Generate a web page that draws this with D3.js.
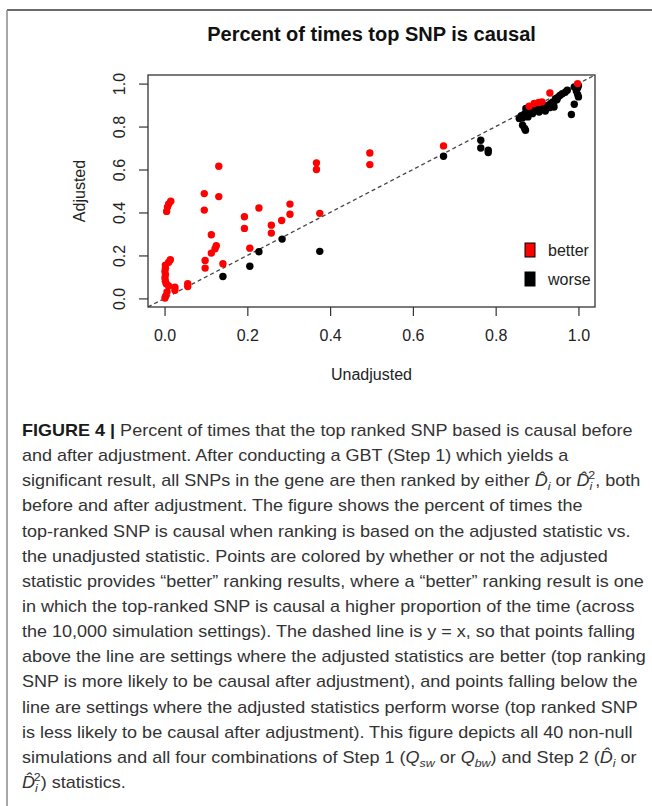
<!DOCTYPE html>
<html>
<head>
<meta charset="utf-8">
<script src="https://cdn.jsdelivr.net/npm/d3@7"></script>
<style>
  body { margin: 0; background: #fff; }
  svg, svg text { font-family: "Liberation Sans", Arial, sans-serif; }
</style>
</head>
<body>
<div id="chart"></div>
<script>
// points: [unadjusted, adjusted]
const betterPoints = [
  [0.015, 0.452], [0.010, 0.440], [0.007, 0.425], [0.005, 0.405],
  [0.014, 0.180], [0.010, 0.168], [0.002, 0.155], [0.002, 0.140], [0.001, 0.125],
  [0.002, 0.110], [0.001, 0.095], [0.002, 0.080], [0.004, 0.068], [0.010, 0.058],
  [0.006, 0.030], [0.003, 0.012], [0.001, 0.002],
  [0.025, 0.052], [0.025, 0.038], [0.056, 0.068], [0.056, 0.055],
  [0.096, 0.488], [0.096, 0.411], [0.131, 0.615], [0.131, 0.474], [0.113, 0.296],
  [0.125, 0.245], [0.122, 0.231], [0.113, 0.211], [0.098, 0.177], [0.098, 0.141],
  [0.141, 0.161], [0.193, 0.380], [0.193, 0.326], [0.228, 0.421], [0.206, 0.234],
  [0.258, 0.341], [0.258, 0.304], [0.283, 0.363], [0.303, 0.439], [0.303, 0.392],
  [0.375, 0.396], [0.367, 0.631], [0.367, 0.600], [0.496, 0.677], [0.496, 0.623],
  [0.674, 0.710],
  [0.881, 0.895], [0.893, 0.907], [0.904, 0.912], [0.912, 0.915], [0.931, 0.956], [0.998, 1.000]
]
const worsePoints = [
  [0.141, 0.102], [0.206, 0.150], [0.228, 0.217], [0.284, 0.276], [0.375, 0.219],
  [0.674, 0.662], [0.764, 0.736], [0.764, 0.700], [0.782, 0.690], [0.782, 0.679],
  [0.857, 0.837], [0.865, 0.806], [0.870, 0.791], [0.872, 0.783], [0.865, 0.840],
  [0.877, 0.853], [0.889, 0.860], [0.905, 0.868], [0.921, 0.884], [0.941, 0.891],
  [0.933, 0.907], [0.945, 0.930], [0.961, 0.953], [0.973, 0.969], [0.873, 0.884],
  [0.885, 0.891], [0.870, 0.860], [0.880, 0.870], [0.895, 0.875], [0.912, 0.880],
  [0.915, 0.895], [0.925, 0.898], [0.938, 0.915], [0.950, 0.935], [0.955, 0.945],
  [0.968, 0.960], [0.900, 0.885], [0.862, 0.850], [0.878, 0.845], [0.930, 0.888],
  [0.948, 0.925], [0.890, 0.875], [0.908, 0.890], [0.920, 0.872], [0.940, 0.905],
  [0.990, 0.984], [0.998, 0.980], [0.995, 0.965], [1.000, 0.990], [0.998, 0.950],
  [1.000, 0.938], [0.990, 0.904], [0.983, 0.856]
]
const xTicks = [0, 0.2, 0.4, 0.6, 0.8, 1.0]
const yTicks = [0, 0.2, 0.4, 0.6, 0.8, 1.0]
const legendLabels = ["better", "worse"]
const legendColors = ["#ff0000", "#000000"]

// caption, one entry per printed line
const captionLines = [
  [{b: "FIGURE 4 |"}, " Percent of times that the top ranked SNP based is causal before"],
  ["and after adjustment. After conducting a GBT (Step 1) which yields a"],
  ["significant result, all SNPs in the gene are then ranked by either ", {it: "D\u0302"}, {sub: "i"}, " or ", {it: "D\u0302"}, {subsup: ["i", "2"]}, ", both"],
  ["before and after adjustment. The figure shows the percent of times the"],
  ["top-ranked SNP is causal when ranking is based on the adjusted statistic vs."],
  ["the unadjusted statistic. Points are colored by whether or not the adjusted"],
  ["statistic provides \u201cbetter\u201d ranking results, where a \u201cbetter\u201d ranking result is one"],
  ["in which the top-ranked SNP is causal a higher proportion of the time (across"],
  ["the 10,000 simulation settings). The dashed line is y = x, so that points falling"],
  ["above the line are settings where the adjusted statistics are better (top ranking"],
  ["SNP is more likely to be causal after adjustment), and points falling below the"],
  ["line are settings where the adjusted statistics perform worse (top ranked SNP"],
  ["is less likely to be causal after adjustment). This figure depicts all 40 non-null"],
  ["simulations and all four combinations of Step 1 (", {it: "Q"}, {sub: "sw"}, " or ", {it: "Q"}, {sub: "bw"}, ") and Step 2 (", {it: "D\u0302"}, {sub: "i"}, " or"],
  [{it: "D\u0302"}, {subsup: ["i", "2"]}, ") statistics."]
]

const FONT = '"Liberation Sans", Arial, sans-serif'
const width = 652, height = 806
const plot = {left: 148, right: 595, top: 75, bottom: 307}

const svg = d3.select("#chart").append("svg")
  .attr("width", width)
  .attr("height", height)

svg.append("rect").attr("width", width).attr("height", height).attr("fill", "#fff")

// figure frame (top + left rule)
svg.append("line").attr("x1", 7).attr("x2", width).attr("y1", 10).attr("y2", 10)
  .attr("stroke", "#3a3a3a").attr("stroke-width", 1.5)
svg.append("line").attr("x1", 7).attr("x2", 7).attr("y1", 10).attr("y2", height)
  .attr("stroke", "#8a8a8a").attr("stroke-width", 1.5)

const x = d3.scaleLinear().domain([-0.04, 1.04]).range([plot.left, plot.right])
const y = d3.scaleLinear().domain([-0.04, 1.04]).range([plot.bottom, plot.top])

svg.append("text")
  .attr("x", (plot.left + plot.right) / 2)
  .attr("y", 41)
  .attr("text-anchor", "middle")
  .attr("font-size", 20)
  .attr("font-weight", "bold")
  .attr("fill", "#111")
  .text("Percent of times top SNP is causal")

// axes
const xAxis = svg.append("g")
  .attr("transform", `translate(0,${plot.bottom})`)
  .call(d3.axisBottom(x).tickValues(xTicks).tickSize(9).tickFormat(d3.format(".1f")))
xAxis.attr("font-family", null).style("font-family", FONT)
xAxis.select(".domain").remove()
xAxis.selectAll("line").attr("stroke", "#333").attr("stroke-width", 1.2)
xAxis.selectAll("text")
  .attr("y", 34).attr("dy", null)
  .attr("font-size", 16).style("font-family", FONT)
  .attr("fill", "#222")

const yAxis = svg.append("g")
  .attr("transform", `translate(${plot.left},0)`)
  .call(d3.axisLeft(y).tickValues(yTicks).tickSize(9).tickFormat(d3.format(".1f")))
yAxis.attr("font-family", null).style("font-family", FONT)
yAxis.select(".domain").remove()
yAxis.selectAll("line").attr("stroke", "#333").attr("stroke-width", 1.2)
yAxis.selectAll("text")
  .attr("x", null).attr("dy", null)
  .attr("text-anchor", "middle")
  .attr("transform", "translate(-23,0) rotate(-90)")
  .attr("font-size", 16).style("font-family", FONT)
  .attr("fill", "#222")

svg.append("text")
  .attr("x", (plot.left + plot.right) / 2)
  .attr("y", 380)
  .attr("text-anchor", "middle")
  .attr("font-size", 16)
  .attr("fill", "#222")
  .text("Unadjusted")

svg.append("text")
  .attr("transform", `translate(85,${(plot.top + plot.bottom) / 2}) rotate(-90)`)
  .attr("text-anchor", "middle")
  .attr("font-size", 16)
  .attr("fill", "#222")
  .text("Adjusted")

// y = x reference
svg.append("defs").append("clipPath").attr("id", "plotclip")
  .append("rect")
  .attr("x", plot.left).attr("y", plot.top)
  .attr("width", plot.right - plot.left).attr("height", plot.bottom - plot.top)

svg.append("line")
  .attr("clip-path", "url(#plotclip)")
  .attr("x1", x(-0.04)).attr("y1", y(-0.04))
  .attr("x2", x(1.04)).attr("y2", y(1.04))
  .attr("stroke", "#444")
  .attr("stroke-width", 1.3)
  .attr("stroke-dasharray", "4,3")

const pts = svg.append("g")
pts.selectAll("circle.worse").data(worsePoints).join("circle")
  .attr("class", "worse")
  .attr("cx", d => x(d[0])).attr("cy", d => y(d[1]))
  .attr("r", 3.7).attr("fill", legendColors[1])
pts.selectAll("circle.better").data(betterPoints).join("circle")
  .attr("class", "better")
  .attr("cx", d => x(d[0])).attr("cy", d => y(d[1]))
  .attr("r", 3.7).attr("fill", legendColors[0])

svg.append("rect")
  .attr("x", plot.left).attr("y", plot.top)
  .attr("width", plot.right - plot.left).attr("height", plot.bottom - plot.top)
  .attr("fill", "none").attr("stroke", "#333").attr("stroke-width", 1.3)

// legend
const legend = svg.append("g").attr("transform", "translate(525,243)")
const items = legend.selectAll("g").data(legendLabels).join("g")
  .attr("transform", (d, i) => `translate(0,${i * 29})`)
items.append("rect")
  .attr("width", 10).attr("height", 14)
  .attr("fill", (d, i) => legendColors[i])
  .attr("stroke", "#000").attr("stroke-width", 1)
items.append("text")
  .attr("x", 23).attr("y", 12.5)
  .attr("font-size", 16).attr("fill", "#222")
  .text(d => d)

// caption
const cap = svg.append("g").attr("fill", "#333").attr("font-size", 16)
captionLines.forEach((segs, i) => {
  const t = cap.append("text").attr("x", 22).attr("y", 436 + i * 25.15)
  let shift = 0
  const add = (str, opts, target) => {
    const s = t.append("tspan").text(str)
    if (target !== shift) { s.attr("dy", target - shift); shift = target }
    if (opts.it) s.attr("font-style", "italic")
    if (opts.small) s.attr("font-size", 11)
    if (opts.b) s.attr("font-weight", "bold").attr("fill", "#1a1a1a")
    if (opts.dx) s.attr("dx", opts.dx)
    return s
  }
  segs.forEach(sg => {
    if (typeof sg === "string") add(sg, {}, 0)
    else if (sg.b) add(sg.b, {b: true}, 0)
    else if (sg.it) add(sg.it, {it: true}, 0)
    else if (sg.sub) add(sg.sub, {it: true, small: true}, 4)
    else if (sg.subsup) {
      add(sg.subsup[0], {it: true, small: true}, 4)
      add(sg.subsup[1], {small: true, dx: -3.5}, -7)
    }
  })
  if (shift !== 0) t.append("tspan").attr("dy", -shift).text("")
})
// squeeze to the narrower face used in the print
const first = cap.select("text").node().getComputedTextLength()
const k = 611 / first
cap.attr("transform", `translate(22,0) scale(${k},1) translate(-22,0)`)
</script>
</body>
</html>
